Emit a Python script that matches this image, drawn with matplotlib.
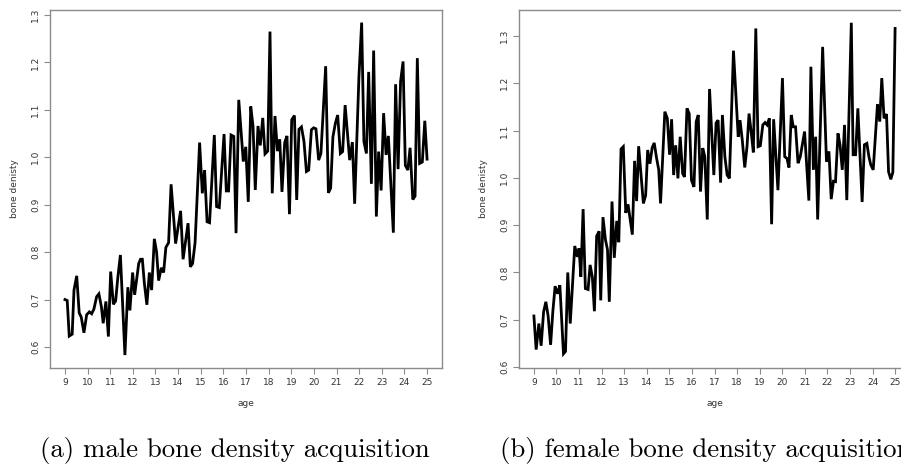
import matplotlib
matplotlib.use("Agg")
import matplotlib.pyplot as plt

# ---- data: male ----
male_age = [9.00, 9.10, 9.19, 9.32, 9.40, 9.52, 9.63, 9.72, 9.84, 9.96,
            10.08, 10.18, 10.28, 10.40, 10.50, 10.61, 10.69, 10.81, 10.92, 11.02,
            11.14, 11.24, 11.34, 11.45, 11.65, 11.78, 11.87, 11.99, 12.08, 12.26,
            12.34, 12.42, 12.51, 12.62, 12.73, 12.83, 12.95, 13.05, 13.14, 13.26,
            13.36, 13.46, 13.58, 13.69, 13.89, 14.11, 14.22, 14.44, 14.54, 14.64,
            14.75, 14.95, 15.07, 15.17, 15.28, 15.39, 15.60, 15.70, 15.82, 16.03,
            16.13, 16.23, 16.34, 16.46, 16.56, 16.68, 16.88, 16.99, 17.10, 17.21,
            17.31, 17.41, 17.53, 17.63, 17.74, 17.84, 17.96, 18.06, 18.16, 18.28,
            18.39, 18.49, 18.59, 18.71, 18.81, 18.92, 19.02, 19.14, 19.24, 19.34,
            19.45, 19.56, 19.67, 19.77, 19.89, 19.99, 20.09, 20.21, 20.31, 20.52,
            20.64, 20.74, 20.84, 20.95, 21.05, 21.17, 21.27, 21.38, 21.58, 21.70,
            21.80, 21.99, 22.11, 22.21, 22.32, 22.42, 22.54, 22.64, 22.76, 22.86,
            22.97, 23.08, 23.19, 23.29, 23.51, 23.61, 23.72, 23.83, 23.94, 24.04,
            24.15, 24.25, 24.37, 24.47, 24.57, 24.67, 24.79, 24.90, 25.00]
male_density = [0.700, 0.698, 0.623, 0.627, 0.720, 0.750, 0.672, 0.663, 0.630, 0.668,
                0.674, 0.670, 0.680, 0.706, 0.712, 0.685, 0.650, 0.696, 0.622, 0.759,
                0.690, 0.697, 0.748, 0.794, 0.583, 0.726, 0.677, 0.757, 0.710, 0.776,
                0.785, 0.785, 0.734, 0.689, 0.757, 0.720, 0.828, 0.800, 0.740, 0.767,
                0.757, 0.810, 0.820, 0.943, 0.818, 0.887, 0.785, 0.861, 0.769, 0.776,
                0.820, 1.031, 0.924, 0.973, 0.864, 0.862, 1.047, 0.896, 0.894, 1.049,
                0.929, 0.929, 1.047, 1.044, 0.840, 1.121, 0.991, 1.022, 0.906, 1.107,
                1.066, 0.931, 1.066, 1.025, 1.083, 1.007, 1.013, 1.265, 0.924, 1.087,
                1.013, 1.038, 0.927, 1.031, 1.045, 0.880, 1.079, 1.088, 0.910, 1.059,
                1.064, 1.034, 0.970, 0.973, 1.058, 1.062, 1.060, 0.994, 1.008, 1.192,
                0.925, 0.935, 1.043, 1.072, 1.089, 1.008, 1.012, 1.110, 0.994, 1.032,
                0.902, 1.170, 1.284, 1.033, 1.008, 1.180, 0.944, 1.225, 0.875, 1.012,
                0.930, 1.093, 1.005, 1.045, 0.841, 1.154, 0.975, 1.160, 1.202, 0.983,
                0.973, 1.020, 0.911, 0.918, 1.209, 0.987, 0.990, 1.077, 0.996]

# ---- data: female ----
female_age = [9.00, 9.10, 9.22, 9.32, 9.43, 9.53, 9.63, 9.74, 9.84, 9.94,
              10.05, 10.15, 10.31, 10.40, 10.50, 10.61, 10.81, 10.92, 11.00, 11.08,
              11.18, 11.28, 11.40, 11.49, 11.59, 11.68, 11.78, 11.89, 11.96, 12.06,
              12.17, 12.26, 12.34, 12.46, 12.56, 12.67, 12.76, 12.86, 12.96, 13.07,
              13.17, 13.36, 13.46, 13.55, 13.64, 13.85, 13.95, 14.04, 14.14, 14.24,
              14.33, 14.43, 14.53, 14.61, 14.80, 14.91, 15.01, 15.10, 15.19, 15.28,
              15.38, 15.48, 15.59, 15.67, 15.78, 15.88, 15.98, 16.09, 16.19, 16.28,
              16.38, 16.48, 16.57, 16.68, 16.78, 16.97, 17.07, 17.16, 17.27, 17.35,
              17.46, 17.56, 17.66, 17.84, 18.05, 18.13, 18.23, 18.34, 18.44, 18.53,
              18.63, 18.72, 18.83, 18.93, 19.03, 19.14, 19.24, 19.33, 19.43, 19.53,
              19.62, 19.81, 20.01, 20.11, 20.21, 20.30, 20.40, 20.49, 20.59, 20.70,
              20.80, 20.99, 21.18, 21.27, 21.38, 21.48, 21.57, 21.79, 21.96, 22.07,
              22.17, 22.27, 22.36, 22.47, 22.56, 22.66, 22.76, 22.86, 23.06, 23.14,
              23.25, 23.35, 23.54, 23.64, 23.75, 23.84, 23.92, 24.03, 24.22, 24.32,
              24.41, 24.51, 24.62, 24.71, 24.81, 24.90, 25.00]
female_density = [0.708, 0.637, 0.692, 0.645, 0.717, 0.738, 0.708, 0.647, 0.718, 0.771,
                  0.755, 0.773, 0.628, 0.633, 0.800, 0.692, 0.856, 0.833, 0.851, 0.791,
                  0.934, 0.766, 0.764, 0.816, 0.790, 0.718, 0.877, 0.887, 0.741, 0.917,
                  0.869, 0.848, 0.738, 0.950, 0.831, 0.909, 0.864, 1.061, 1.066, 0.926,
                  0.944, 0.880, 1.036, 0.951, 1.067, 0.946, 0.963, 1.059, 1.030, 1.064,
                  1.074, 1.043, 1.017, 0.946, 1.140, 1.126, 1.049, 1.124, 1.006, 1.069,
                  0.999, 1.087, 1.009, 1.002, 1.147, 1.136, 0.995, 0.981, 1.119, 1.133,
                  0.971, 1.063, 1.045, 0.912, 1.188, 1.006, 1.116, 1.122, 0.990, 1.133,
                  1.045, 1.006, 0.999, 1.269, 1.087, 1.122, 1.080, 1.022, 1.066, 1.136,
                  1.095, 1.054, 1.316, 1.066, 1.068, 1.112, 1.117, 1.112, 1.126, 0.902,
                  1.124, 0.974, 1.211, 1.045, 1.041, 1.022, 1.133, 1.108, 1.108, 1.031,
                  1.045, 1.098, 0.952, 1.235, 1.017, 1.087, 0.912, 1.277, 1.034, 1.056,
                  0.955, 0.993, 0.992, 1.094, 1.070, 1.017, 1.112, 0.953, 1.328, 1.049,
                  1.049, 1.147, 0.949, 1.070, 1.073, 1.045, 1.028, 1.017, 1.156, 1.119,
                  1.211, 1.126, 1.135, 1.013, 0.997, 1.012, 1.316]

x_ticks = list(range(9, 26))
male_yticks = [0.6, 0.7, 0.8, 0.9, 1.0, 1.1, 1.2, 1.3]
female_yticks = [0.6, 0.7, 0.8, 0.9, 1.0, 1.1, 1.2, 1.3]
captions = ["(a) male bone density acquisition", "(b) female bone density acquisition"]

W, H = 901, 471
fig = plt.figure(figsize=(W / 100, H / 100), dpi=100)

def px_axes(x0, x1, y0, y1):
    return fig.add_axes([x0 / W, 1 - y1 / H, (x1 - x0) / W, (y1 - y0) / H])

frame_col = "#8a8a8a"
txt_col = "#333333"

panels = [
    (px_axes(50, 442, 10, 368), male_age, male_density, male_yticks, (0.5557, 1.3105)),
    (px_axes(519, 910, 10, 368), female_age, female_density, female_yticks, (0.598, 1.355)),
]

for ax, xs, ys, yt, yl in panels:
    ax.plot(xs, ys, color="black", lw=2.0, solid_joinstyle="miter")
    ax.set_xlim(8.34, 25.66)
    ax.set_ylim(*yl)
    ax.set_xticks(x_ticks)
    ax.set_xticklabels([str(t) for t in x_ticks])
    ax.set_yticks(yt)
    ax.set_yticklabels([f"{t:.1f}" for t in yt], rotation=90, va="center")
    for s in ax.spines.values():
        s.set_color(frame_col)
        s.set_linewidth(1.0)
    ax.tick_params(axis="both", direction="out", length=4, width=0.8,
                   color=frame_col, labelsize=6.5, labelcolor=txt_col, pad=3)
    ax.set_xlabel("age", fontsize=6.5, color=txt_col, labelpad=9)
    ax.set_ylabel("bone denisty", fontsize=6.5, color=txt_col, labelpad=9)

fig.text(40 / W, 1 - 451 / H, captions[0], family="cmr10", fontsize=19.3,
         ha="left", va="center", color="black")
fig.text(500 / W, 1 - 451 / H, captions[1], family="cmr10", fontsize=19.3,
         ha="left", va="center", color="black")

fig.savefig("out.png", dpi=100)
